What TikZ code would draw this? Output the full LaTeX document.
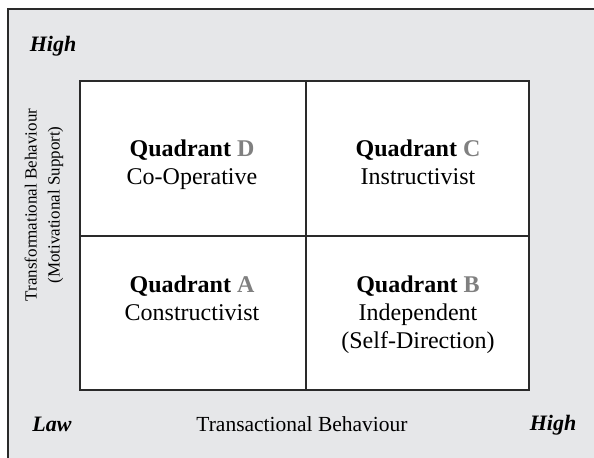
\documentclass[tikz,border=0pt]{standalone}
\usepackage{fontspec}
\setmainfont{Liberation Serif}
\usetikzlibrary{positioning}
\definecolor{panel}{HTML}{E6E7E9}
\definecolor{letter}{HTML}{808080}
\definecolor{rule}{HTML}{2A2A2A}
\newcommand{\quadname}[1]{\textbf{Quadrant \textcolor{letter}{#1}}}

\begin{document}
\begin{tikzpicture}[x=0.5pt,y=-0.5pt,
		quad/.style={anchor=north,inner sep=0pt,align=center,font=\fontsize{12}{14}\selectfont},
		pole/.style={anchor=base,inner sep=0pt,font=\fontsize{11}{13}\selectfont\bfseries\itshape},
		axislab/.style={inner sep=0pt,align=center}]
		\useasboundingbox (0,0) rectangle (594,458);
		\fill[panel] (8,9) rectangle (594,458);
		\draw[line width=1pt,rule] (594,9) -- (8,9) -- (8,458);
		
		\coordinate(TL) at (80,81);
		\coordinate(TM) at (306,81);
		\coordinate(TR) at (529,81);
		\coordinate(ML) at (80,236);
		\coordinate(MR) at (529,236);
		\coordinate(BL) at (80,390);
		\coordinate(BM) at (306,390);
		\coordinate(BR) at (529,390);
		\fill[white] (TL) rectangle (BR);
		\draw[line width=1pt,rule] (TL) rectangle (BR);
		\draw[line width=1pt,rule] (TM) -- (BM);
		\draw[line width=1pt,rule] (ML) -- (MR);
		
		\node[quad](QD) at (192,139) {\quadname{D}\\Co-Operative};
		\node[quad](QC) at (418,139) {\quadname{C}\\Instructivist};
		\node[quad](QA) at (192,275) {\quadname{A}\\Constructivist};
		\node[quad](QB) at (418,275) {\quadname{B}\\Independent\\(Self-Direction)};
		
		\node[pole](HighY) at (53,52) {High};
		\node[pole](LawX) at (52,432) {Law};
		\node[pole](HighX) at (553,431) {High};
		\node[axislab,anchor=base,font=\fontsize{10.75}{13}\selectfont](Trans) at (302,432) {Transactional Behaviour};
		\node[axislab,rotate=90,font=\fontsize{8.5}{11.5}\selectfont](Transf) at (44,205) {Transformational Behaviour\\(Motivational Support)};
	\end{tikzpicture}
\end{document}
